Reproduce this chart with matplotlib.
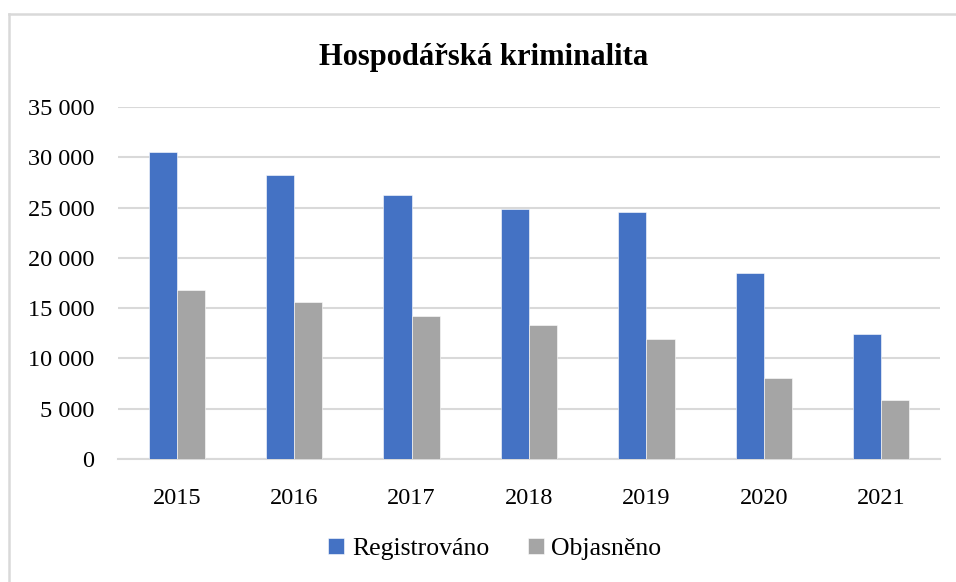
import matplotlib.pyplot as plt
import matplotlib.ticker as mticker
from matplotlib.lines import Line2D
import numpy as np

# data
years = ['2015', '2016', '2017', '2018', '2019', '2020', '2021']
registrovano = [30570, 28250, 26260, 24840, 24540, 18510, 12450]
objasneno = [16790, 15570, 14210, 13280, 11890, 8020, 5830]

series_names = ['Registrováno', 'Objasněno']
series_colors = ['#4472C4', '#A5A5A5']
grid_color = '#D9D9D9'

plt.rcParams['font.family'] = ['Liberation Serif', 'DejaVu Serif']

W, H = 956, 582
fig = plt.figure(figsize=(W / 100, H / 100), dpi=100)
ax = fig.add_axes([118 / W, 1 - 459 / H, (940 - 118) / W, (459 - 107) / H])

x = np.arange(len(years))
bw = 0.24
ax.bar(x - bw / 2, registrovano, bw, color=series_colors[0], label=series_names[0],
       edgecolor='white', linewidth=0.4, zorder=3)
ax.bar(x + bw / 2, objasneno, bw, color=series_colors[1], label=series_names[1],
       edgecolor='white', linewidth=0.4, zorder=3)

ax.set_xlim(-0.5, len(years) - 0.5)
ax.set_ylim(0, 35000)
ax.set_xticks(x)
ax.set_xticklabels(years)
ax.yaxis.set_major_locator(mticker.MultipleLocator(5000))
ax.yaxis.set_major_formatter(mticker.FuncFormatter(lambda v, p: f'{v:,.0f}'.replace(',', ' ')))

ax.grid(axis='y', color=grid_color, linewidth=1.5, zorder=0)
for s in ['top', 'right', 'left']:
    ax.spines[s].set_visible(False)
ax.spines['bottom'].set_color(grid_color)
ax.spines['bottom'].set_linewidth(1.5)
ax.tick_params(axis='both', length=0, labelsize=17.5, colors='black')
ax.tick_params(axis='y', pad=17)
ax.tick_params(axis='x', pad=21)

fig.text(484 / W, 1 - 58 / H, 'Hospodářská kriminalita', ha='center', va='center',
         fontsize=22, fontweight='bold')

leg = fig.legend(loc='center', bbox_to_anchor=(495 / W, 1 - 549 / H), ncol=2,
                 frameon=False, fontsize=18.5, handlelength=0.62, handleheight=0.62,
                 handletextpad=0.3, columnspacing=1.5)

# outer chart border (left and top only visible)
fig.add_artist(Line2D([9 / W, 9 / W], [0, 1 - 14 / H], color=grid_color, linewidth=1.8))
fig.add_artist(Line2D([9 / W, 1.01], [1 - 14 / H, 1 - 14 / H], color=grid_color, linewidth=1.8))

fig.savefig('out.png', dpi=100)
